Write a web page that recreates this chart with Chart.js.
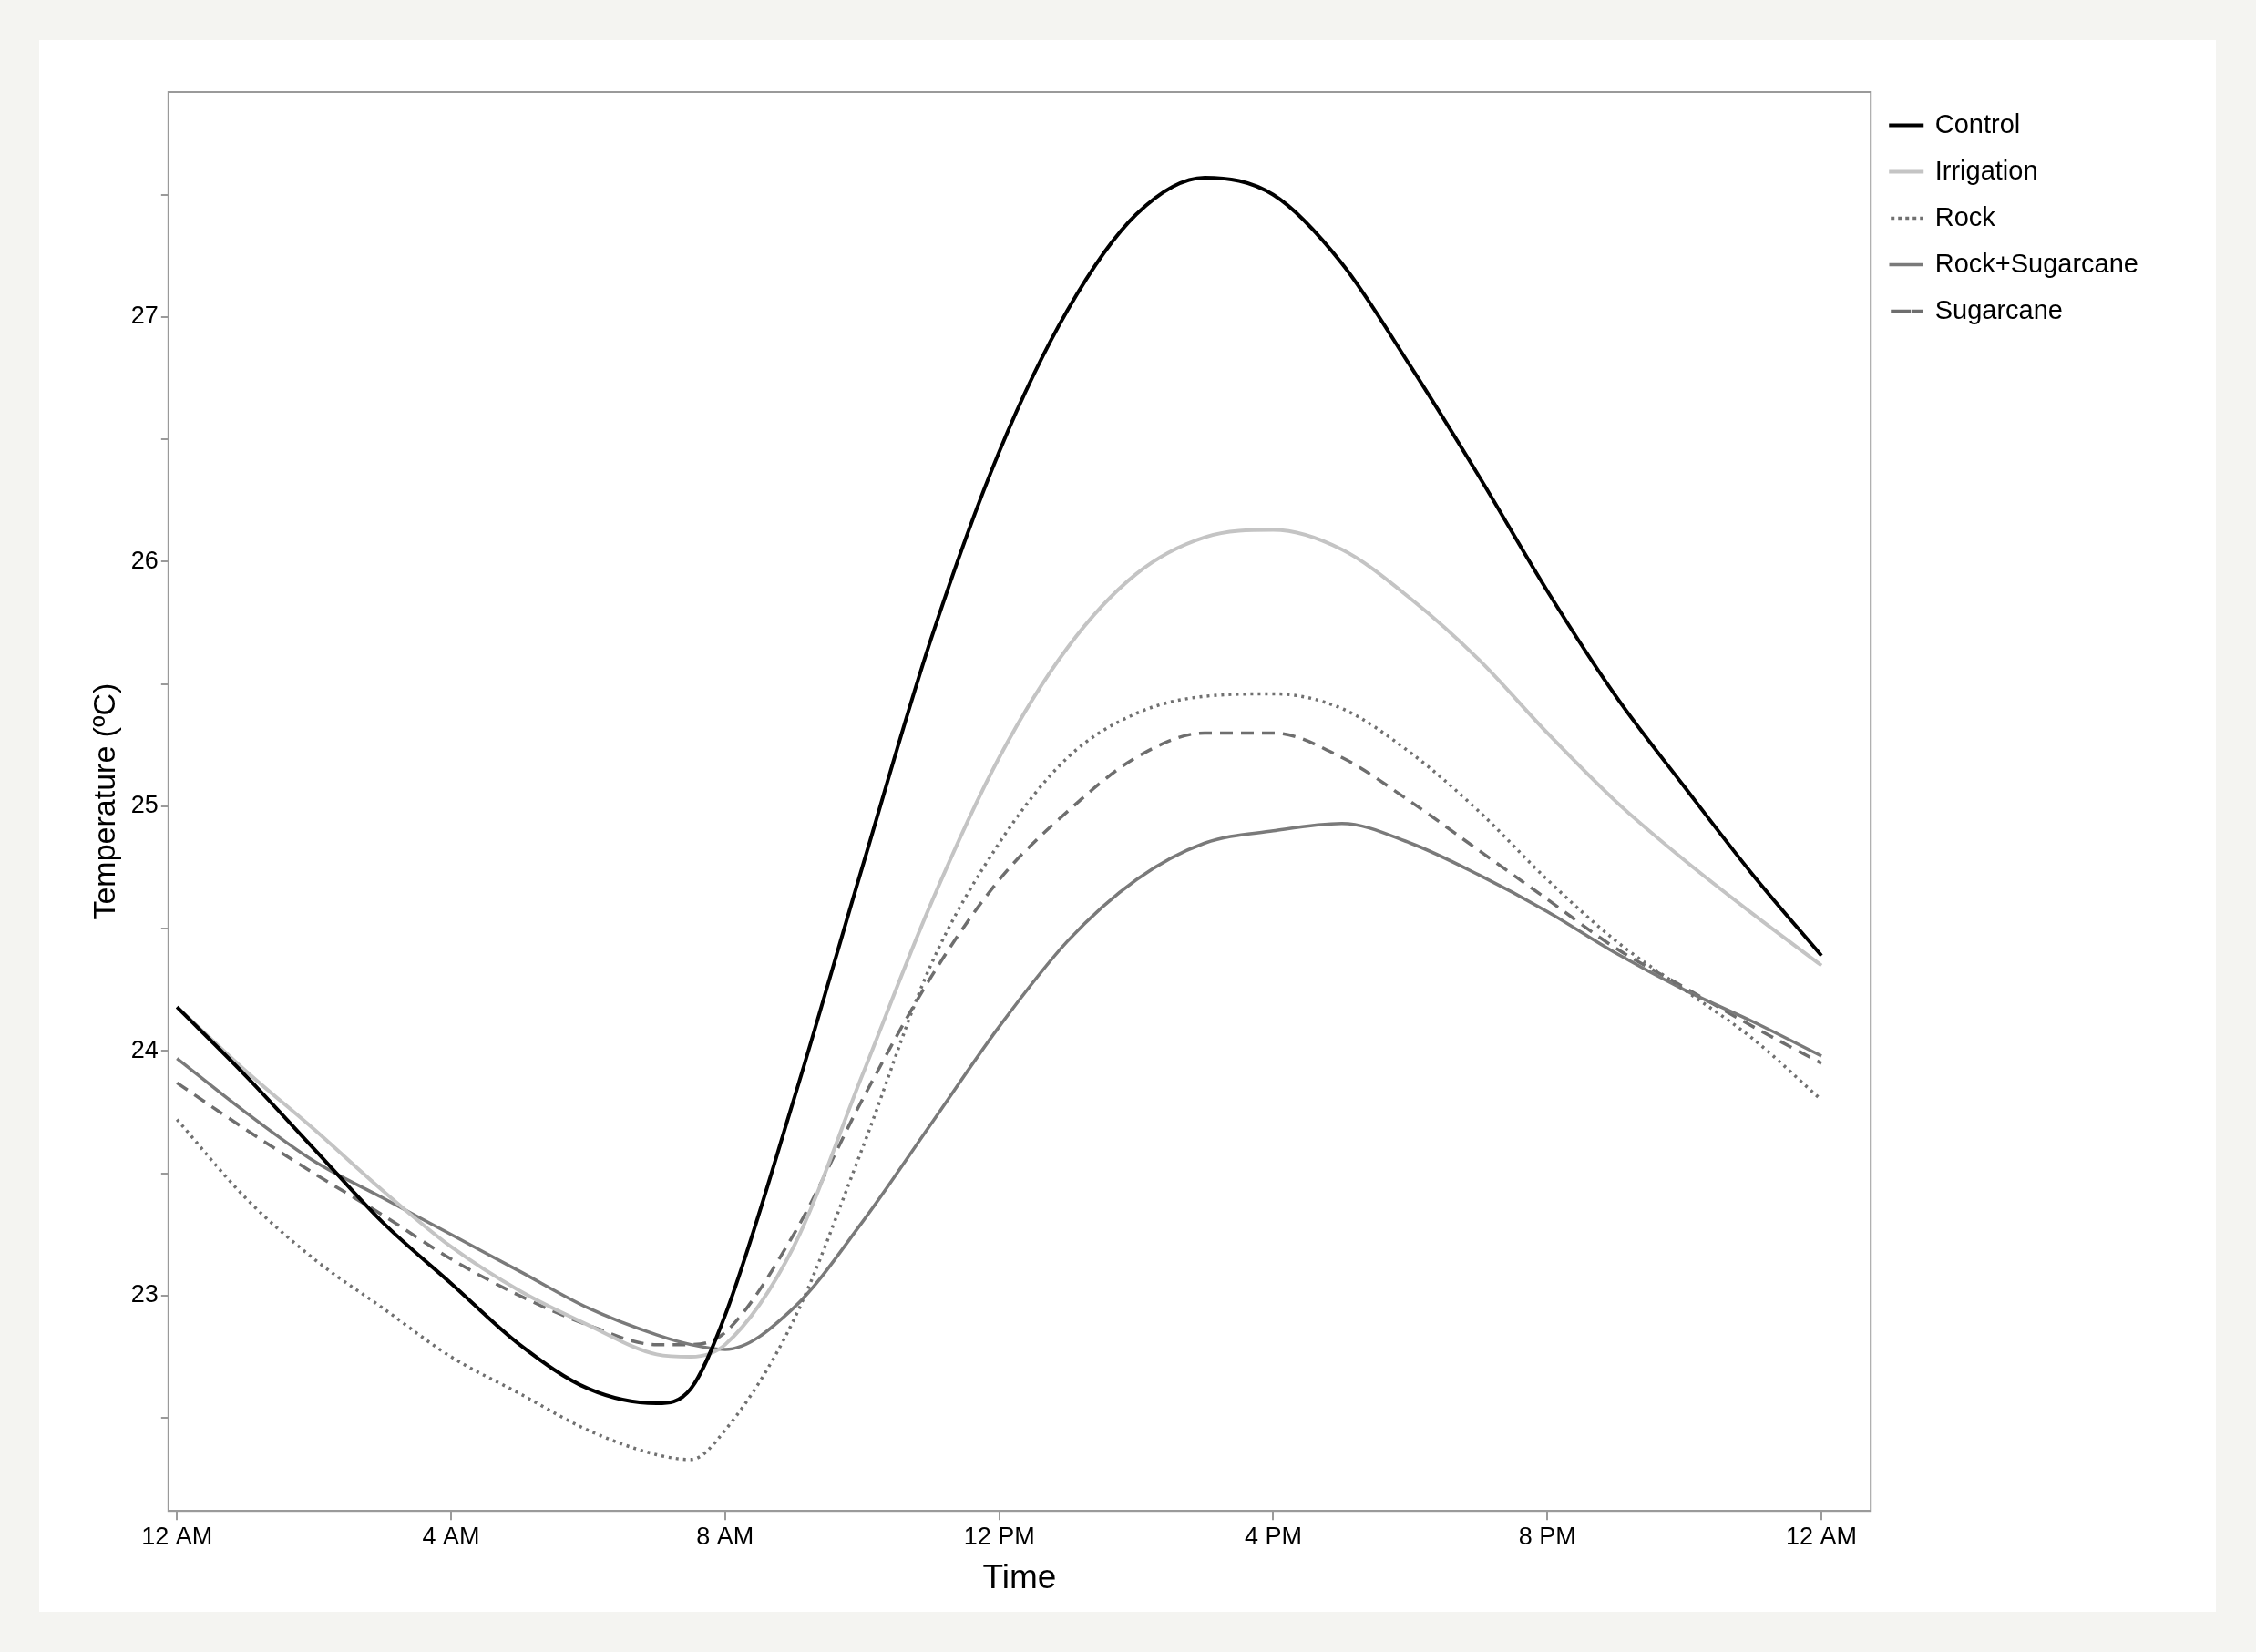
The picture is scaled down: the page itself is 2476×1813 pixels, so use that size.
<!DOCTYPE html>
<html><head><meta charset="utf-8">
<script src="https://cdn.jsdelivr.net/npm/chart.js@4"></script>
<style>
html,body{margin:0;padding:0;background:#f4f4f1;}
#panel{position:absolute;left:43px;top:44px;width:2389px;height:1725px;background:#fff;}
canvas{display:block;}
</style></head>
<body><div id="panel"><canvas id="c" width="2389" height="1725"></canvas></div>
<script>
const hours=[0,1,2,3,4,5,6,7,7.5,8,9,10,11,12,13,14,15,16,17,18,19,20,21,22,23,24];
const control=[24.18,23.9,23.6,23.3,23.05,22.8,22.62,22.56,22.62,22.92,23.8,24.75,25.68,26.45,27.03,27.42,27.57,27.5,27.22,26.8,26.35,25.88,25.45,25.08,24.72,24.39];
const irrigation=[24.18,23.92,23.68,23.43,23.2,23.02,22.88,22.76,22.75,22.8,23.2,23.9,24.6,25.2,25.65,25.95,26.1,26.13,26.05,25.85,25.6,25.3,25.02,24.78,24.56,24.35];
const rock=[23.72,23.4,23.15,22.95,22.75,22.6,22.45,22.35,22.33,22.45,22.9,23.6,24.35,24.85,25.2,25.38,25.45,25.46,25.4,25.22,24.98,24.7,24.45,24.25,24.05,23.8];
const rockSugar=[23.97,23.75,23.55,23.4,23.25,23.1,22.95,22.84,22.8,22.78,22.95,23.3,23.7,24.1,24.45,24.7,24.85,24.9,24.93,24.85,24.72,24.57,24.4,24.25,24.12,23.98];
const sugarcane=[23.87,23.68,23.5,23.33,23.15,23.0,22.88,22.8,22.8,22.85,23.25,23.8,24.3,24.7,24.98,25.2,25.3,25.3,25.2,25.02,24.82,24.62,24.42,24.26,24.1,23.95];
const xTickLabels={0:'12 AM',4:'4 AM',8:'8 AM',12:'12 PM',16:'4 PM',20:'8 PM',24:'12 AM'};
const seriesNames=['Control','Irrigation','Rock','Rock+Sugarcane','Sugarcane'];
const styles=[{c:'#000',w:4,d:[]},{c:'#c4c4c4',w:4,d:[]},{c:'#707070',w:3.5,d:[3,5]},{c:'#7a7a7a',w:3.5,d:[]},{c:'#6e6e6e',w:3.5,d:[14,9]}];
const all=[control,irrigation,rock,rockSugar,sugarcane];
const datasets=all.map((arr,i)=>({label:seriesNames[i],data:arr.map((v,j)=>({x:hours[j],y:v})),
 borderColor:styles[i].c,backgroundColor:'rgba(0,0,0,0)',borderWidth:styles[i].w,borderDash:styles[i].d,pointRadius:0,cubicInterpolationMode:'monotone',fill:false}));
const frame={id:'frame',afterDraw(ch){const a=ch.chartArea,ctx=ch.ctx;ctx.save();ctx.strokeStyle='#9a9a9a';ctx.lineWidth=2;ctx.strokeRect(a.left,a.top,a.right-a.left,a.bottom-a.top);ctx.restore();}};
new Chart(document.getElementById('c'),{type:'line',data:{datasets},plugins:[frame],
options:{responsive:false,animation:false,
 layout:{padding:{left:49,top:57,right:75,bottom:10}},
 plugins:{legend:{position:'right',align:'start',labels:{boxWidth:34,boxHeight:0.01,color:'#000',font:{family:'Liberation Sans',size:29},padding:22}},tooltip:{enabled:false}},
 scales:{
  x:{type:'linear',min:-0.125,max:24.72,
   ticks:{stepSize:4,autoSkip:false,color:'#000',font:{family:'Liberation Sans',size:27},callback:v=>xTickLabels[v]??'',maxRotation:0},
   afterBuildTicks:s=>{s.ticks=Object.keys(xTickLabels).map(k=>({value:+k}));},
   grid:{drawOnChartArea:false,tickLength:10,color:'#9a9a9a',lineWidth:2},border:{color:'#9a9a9a',width:2},
   title:{display:true,text:'Time',color:'#000',font:{family:'Liberation Sans',size:37}}},
  y:{min:22.12,max:27.92,
   afterBuildTicks:s=>{const t=[];for(let v=22.5;v<=27.5;v+=0.5)t.push({value:v});s.ticks=t;},
   ticks:{color:'#000',font:{family:'Liberation Sans',size:27},callback:v=>Number.isInteger(v)?String(v):''},
   grid:{drawOnChartArea:false,tickLength:8,color:'#9a9a9a',lineWidth:2},border:{color:'#9a9a9a',width:2},
   title:{display:true,text:'Temperature (ºC)',color:'#000',font:{family:'Liberation Sans',size:34}}}
 }}});
</script></body></html>
